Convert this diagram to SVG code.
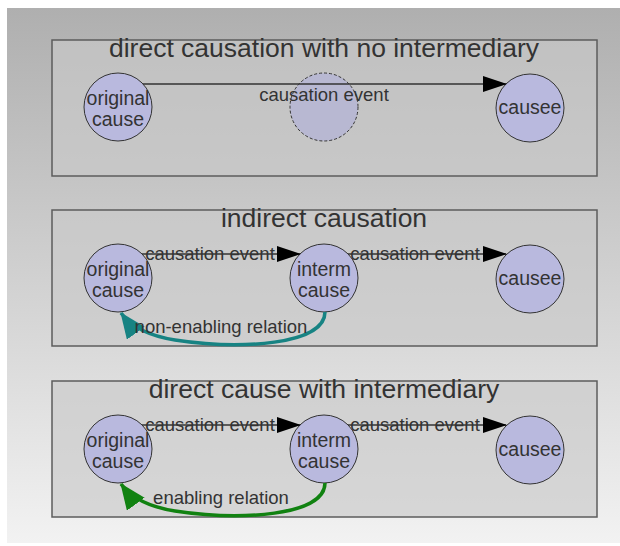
<svg xmlns="http://www.w3.org/2000/svg" width="620" height="546" viewBox="0 0 620 546">
  <defs>
    <linearGradient id="bg" x1="0" y1="0" x2="0" y2="1">
      <stop offset="0" stop-color="#afafaf"/>
      <stop offset="1" stop-color="#f2f2f2"/>
    </linearGradient>
    <marker id="arrowBlack" viewBox="0 0 24 16" refX="23" refY="8" markerWidth="24" markerHeight="16" markerUnits="userSpaceOnUse" orient="auto">
      <path d="M0,0 L24,8 L0,16 z" fill="#000"/>
    </marker>
    <marker id="arrowTeal" viewBox="0 0 26 22" refX="25" refY="11" markerWidth="26" markerHeight="22" markerUnits="userSpaceOnUse" orient="auto">
      <path d="M0,0 L26,11 L0,22 z" fill="#178383"/>
    </marker>
    <marker id="arrowGreen" viewBox="0 0 26 22" refX="25" refY="11" markerWidth="26" markerHeight="22" markerUnits="userSpaceOnUse" orient="auto">
      <path d="M0,0 L26,11 L0,22 z" fill="#118211"/>
    </marker>
  </defs>
  <style>
    .frame { fill: #cacaca; fill-opacity: 0.65; stroke: #5c5c5c; stroke-width: 1.5; }
    .title { font-family: "Liberation Sans", Arial, sans-serif; font-size: 26.5px; fill: #333; text-anchor: middle; }
    .node { fill: #b9b9de; stroke: #333; stroke-width: 1; }
    .ghost { fill: #b8b8d2; stroke: #333; stroke-width: 1; stroke-dasharray: 3 2; }
    .lbl { font-family: "Liberation Sans", Arial, sans-serif; font-size: 18.5px; fill: #333; text-anchor: middle; }
    .nlbl { font-family: "Liberation Sans", Arial, sans-serif; font-size: 19.5px; fill: #333; text-anchor: middle; }
    .edge { fill: none; stroke: #333; stroke-width: 1.5; marker-end: url(#arrowBlack); }
    .nonenabling { fill: none; stroke: #178383; stroke-width: 3.5; marker-end: url(#arrowTeal); }
    .enabling { fill: none; stroke: #118211; stroke-width: 3.5; marker-end: url(#arrowGreen); }
  </style>

  <!-- backdrop -->
  <rect x="7" y="8" width="613" height="535" fill="url(#bg)"/>

  <!-- panel frames -->
  <g id="panel-direct">
    <rect class="frame" x="52" y="40" width="545" height="136"/>
    <text class="title" x="324" y="57">direct causation with no intermediary</text>
  </g>
  <g id="panel-indirect">
    <rect class="frame" x="52" y="210" width="545" height="136"/>
    <text class="title" x="324" y="227">indirect causation</text>
  </g>
  <g id="panel-intermediary">
    <rect class="frame" x="52" y="381" width="545" height="136"/>
    <text class="title" x="324" y="398">direct cause with intermediary</text>
  </g>

  <!-- panel 1 nodes -->
  <g id="p1-original">
    <circle class="node" cx="118" cy="107" r="34"/>
    <text class="nlbl" x="118" y="105">original</text>
    <text class="nlbl" x="118" y="126">cause</text>
  </g>
  <g id="p1-event">
    <circle class="ghost" cx="324" cy="107" r="34"/>
  </g>
  <g id="p1-causee">
    <circle class="node" cx="530" cy="108" r="34"/>
    <text class="nlbl" x="530" y="114">causee</text>
  </g>

  <!-- panel 2 nodes -->
  <g id="p2-original">
    <circle class="node" cx="118" cy="278" r="34"/>
    <text class="nlbl" x="118" y="276">original</text>
    <text class="nlbl" x="118" y="297">cause</text>
  </g>
  <g id="p2-interm">
    <circle class="node" cx="324" cy="278" r="34"/>
    <text class="nlbl" x="324" y="276">interm</text>
    <text class="nlbl" x="324" y="297">cause</text>
  </g>
  <g id="p2-causee">
    <circle class="node" cx="530" cy="279" r="34"/>
    <text class="nlbl" x="530" y="285">causee</text>
  </g>

  <!-- panel 3 nodes -->
  <g id="p3-original">
    <circle class="node" cx="118" cy="449" r="34"/>
    <text class="nlbl" x="118" y="447">original</text>
    <text class="nlbl" x="118" y="468">cause</text>
  </g>
  <g id="p3-interm">
    <circle class="node" cx="324" cy="449" r="34"/>
    <text class="nlbl" x="324" y="447">interm</text>
    <text class="nlbl" x="324" y="468">cause</text>
  </g>
  <g id="p3-causee">
    <circle class="node" cx="530" cy="450" r="34"/>
    <text class="nlbl" x="530" y="456">causee</text>
  </g>

  <!-- connectors -->
  <g id="connectors">
    <path class="edge" d="M143,84 L506,84"/>
    <text class="lbl" x="324" y="101">causation event</text>

    <path class="edge" d="M142,254 L300,254"/>
    <text class="lbl" x="210" y="260">causation event</text>
    <path class="edge" d="M348,254 L506,254"/>
    <text class="lbl" x="415" y="260">causation event</text>

    <path class="nonenabling" d="M325,312 C325,345 240,350 175,340 C150,336 132,328 121,313"/>
    <text class="lbl" x="221" y="333">non-enabling relation</text>

    <path class="edge" d="M142,425 L300,425"/>
    <text class="lbl" x="210" y="431">causation event</text>
    <path class="edge" d="M348,425 L506,425"/>
    <text class="lbl" x="415" y="431">causation event</text>

    <path class="enabling" d="M325,483 C325,516 240,521 175,511 C150,507 132,499 121,484"/>
    <text class="lbl" x="221" y="504">enabling relation</text>
  </g>
</svg>
